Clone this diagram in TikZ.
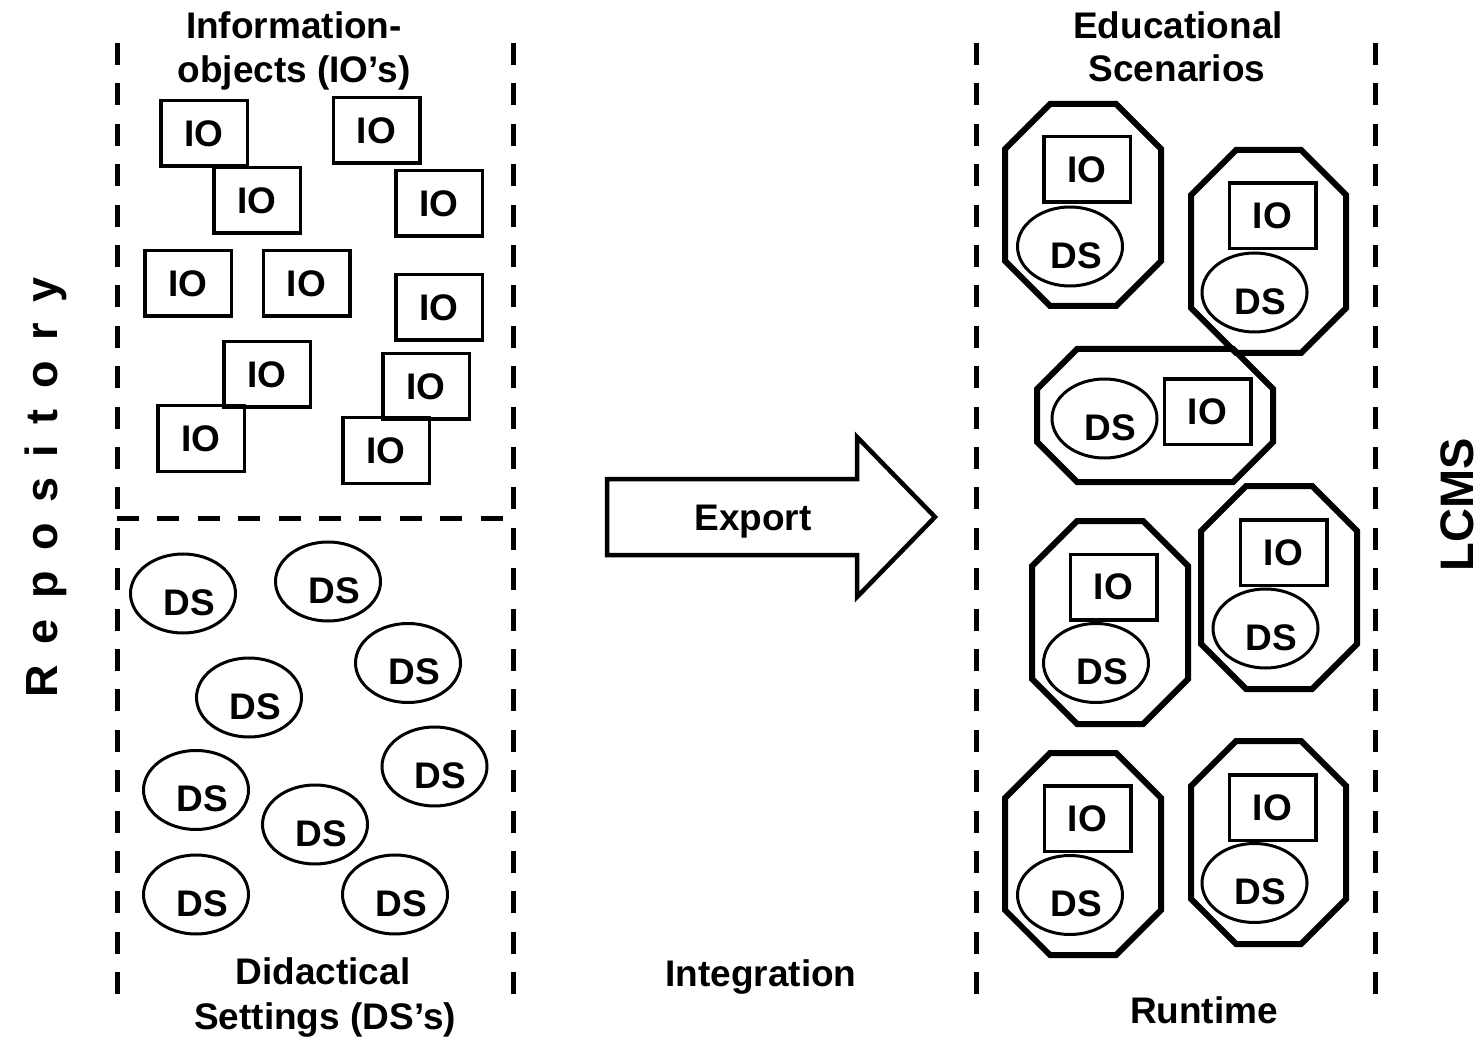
\documentclass[tikz,border=0pt]{standalone}
\usepackage{fontspec}
\setmainfont{Liberation Sans}
\usetikzlibrary{shapes.geometric}
\newcommand\ioat[2]{\node[iobox] (#1) at (#2) {IO};}
\newcommand\dsat[2]{\node[dsshape] (#1) at (#2) {};
  \node at ([shift={(6,9)}]#1.center) {DS};}
% octagon: x1 y1 x2 y2 corner-cut
\newcommand\scenario[5]{\draw[octo] (#1+#5,#2) -- (#3-#5,#2) -- (#3,#2+#5) -- (#3,#4-#5)
  -- (#3-#5,#4) -- (#1+#5,#4) -- (#1,#4-#5) -- (#1,#2+#5) -- cycle;}
\newcommand\spaced{\kern20.5pt\relax}
\begin{document}
\begin{tikzpicture}[x=1pt,y=-1pt,
  every node/.style={font=\bfseries\fontsize{37}{44}\selectfont, inner sep=0pt},
  iobox/.style={draw, line width=3.5pt, minimum width=86.5pt, minimum height=65.5pt},
  dsshape/.style={draw, ellipse, line width=3pt, minimum width=105pt, minimum height=79pt},
  lbl/.style={anchor=base},
  sep/.style={line width=5pt, dash pattern=on 22pt off 18.4pt},
  octo/.style={line width=6pt, line join=miter},
  ]
\fill[white] (0,0) rectangle (1481,1040);
\useasboundingbox (0,0) rectangle (1481,1040);

% column separators
\draw[sep] (117,43) -- (117,994);
\draw[sep] (513,43) -- (513,994);
\draw[sep] (117,518) -- (505,518);
\draw[sep] (976,43) -- (976,994);
\draw[sep] (1375,43) -- (1375,994);

% headings
\node[lbl] (t1) at (294,39) {Information-};
\node[lbl] (t2) at (294,83) {objects (IO’s)};
\node[lbl] (t3) at (323,984) {Didactical};
\node[lbl] (t4) at (325,1029) {Settings (DS’s)};
\node[lbl] (t5) at (761,986) {Integration};
\node[lbl] (t6) at (1204,1023) {Runtime};
\node[lbl] (t7) at (1178,39) {Educational};
\node[lbl] (t8) at (1177,82) {Scenarios};
\node[lbl, rotate=90, font=\bfseries\fontsize{45}{45}\selectfont] (repo) at (57,487.5)
  {R\spaced e\spaced p\spaced o\spaced s\spaced i\spaced t\spaced o\spaced r\spaced y};
\node[lbl, rotate=90, font=\bfseries\fontsize{47}{47}\selectfont] (lcms) at (1473,505) {LCMS};

% information objects
\ioat{io1}{204,133.5}
\ioat{io2}{376.5,130.5}
\ioat{io3}{257,200.5}
\ioat{io4}{439,203.5}
\ioat{io5}{188,283.5}
\ioat{io6}{306.5,283.5}
\ioat{io7}{439,307.5}
\ioat{io8}{267,374.5}
\ioat{io9}{201,438.5}
\ioat{io10}{426,386.5}
\ioat{io11}{386,450.5}

% didactical settings
\dsat{ds1}{183,593.5}
\dsat{ds2}{328,581.5}
\dsat{ds3}{408,663}
\dsat{ds4}{249,697.5}
\dsat{ds5}{434.5,766.5}
\dsat{ds6}{196,790}
\dsat{ds7}{315,824.5}
\dsat{ds8}{196,894.5}
\dsat{ds9}{395,894.5}

% export arrow
\draw[line width=4.5pt, line join=miter] (607,479) -- (857,479) -- (857,437) -- (935,517)
  -- (857,597) -- (857,555) -- (607,555) -- cycle;
\node[lbl] (export) at (753,530) {Export};

% educational scenarios
\scenario{1005}{104}{1161}{306}{45}
\scenario{1191}{150}{1346}{353}{45}
\scenario{1037}{349}{1273}{482}{40}
\scenario{1032}{521}{1188}{724}{45}
\scenario{1201}{486}{1357}{689}{45}
\scenario{1005}{753}{1161}{955}{45}
\scenario{1191}{741}{1346}{944}{45}

\ioat{sa}{1087,169.5}
\dsat{sda}{1070,246.5}
\ioat{sb}{1272.5,216}
\dsat{sdb}{1254.5,292.5}
\ioat{sc}{1207.5,412}
\dsat{sdc}{1104.5,418.5}
\ioat{sd}{1113.5,587}
\dsat{sdd}{1096,663}
\ioat{se}{1283.5,552.5}
\dsat{sde}{1265.5,628.5}
\ioat{sf}{1087.5,818.5}
\dsat{sdf}{1070,895}
\ioat{sg}{1272.5,807.5}
\dsat{sdg}{1254.5,883}
\end{tikzpicture}
\end{document}
